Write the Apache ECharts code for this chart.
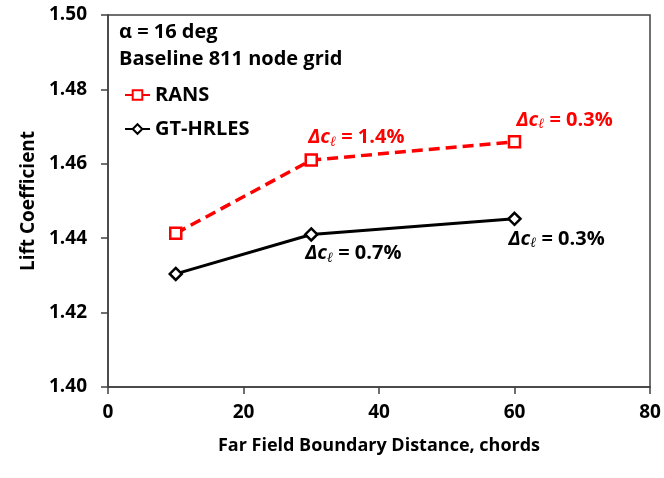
<!DOCTYPE html>
<html><head><meta charset="utf-8">
<script src="https://cdn.jsdelivr.net/npm/echarts@6/dist/echarts.min.js"></script>
<style>html,body{margin:0;padding:0;background:#fff}#c{width:664px;height:478px}</style>
</head><body><div id="c"></div>
<script>
const distances = [10, 30, 60];
const ransValues = [1.4413, 1.4610, 1.4659];
const hrlesValues = [1.4304, 1.4410, 1.4452];
const ransNotes = ['', '1.4%', '0.3%'];
const hrlesNotes = ['', '0.7%', '0.3%'];
const xTicks = [0, 20, 40, 60, 80];
const yTicks = [1.40, 1.42, 1.44, 1.46, 1.48, 1.50];

const FONT = 'Open Sans';
const chart = echarts.init(document.getElementById('c'));
function rich(color){
  return {
    d:{fontFamily:FONT,fontWeight:'bold',fontStyle:'italic',fontSize:20,color:color},
    s:{fontFamily:'DejaVu Serif',fontStyle:'italic',fontWeight:'bold',fontSize:14,color:color,verticalAlign:'bottom',padding:[10,0,0,0]},
    t:{fontFamily:FONT,fontWeight:'bold',fontSize:20,color:color}
  };
}
function noteData(values, notes, offsets, color){
  return values.map((v,i)=>{
    const item = {value:[distances[i], v]};
    if(notes[i]){
      item.label = {show:true, position:'inside', align:'left', verticalAlign:'middle',
        offset:offsets[i], formatter:'{d|Δc}{s|ℓ}{t| = '+notes[i]+'}', rich:rich(color)};
    }
    return item;
  });
}
chart.setOption({
  animation:false,
  grid:{left:108,right:14,top:15,bottom:91,show:true,borderColor:'#404040',borderWidth:1.5,backgroundColor:'transparent'},
  xAxis:{type:'value',min:0,max:80,interval:20,
    name:'Far Field Boundary Distance, chords',nameLocation:'middle',nameGap:50,
    nameTextStyle:{fontFamily:FONT,fontWeight:'bold',fontSize:18,color:'#000'},
    axisLine:{show:true,lineStyle:{color:'#404040',width:1.5}},
    axisTick:{show:true,inside:false,length:7,lineStyle:{color:'#404040',width:1.5}},
    axisLabel:{fontFamily:FONT,fontWeight:'bold',fontSize:19,color:'#000',margin:16,
      formatter:v=>xTicks.includes(v)?String(v):''},
    splitLine:{show:false}},
  yAxis:{type:'value',min:1.40,max:1.50,interval:0.02,
    name:'Lift Coefficient',nameLocation:'middle',nameGap:70,
    nameTextStyle:{fontFamily:FONT,fontWeight:'bold',fontSize:19,color:'#000'},
    axisLine:{show:true,lineStyle:{color:'#404040',width:1.5}},
    axisTick:{show:true,inside:false,length:7,lineStyle:{color:'#404040',width:1.5}},
    axisLabel:{fontFamily:FONT,fontWeight:'bold',fontSize:19,color:'#000',margin:21,
      formatter:v=>{const t=yTicks.find(y=>Math.abs(y-v)<1e-6);return t===undefined?'':t.toFixed(2);}},
    splitLine:{show:false}},
  legend:{orient:'vertical',left:119,top:80,itemGap:14,itemWidth:25,itemHeight:12,
    textStyle:{fontFamily:FONT,fontWeight:'bold',fontSize:20,color:'#000'},
    data:['RANS','GT-HRLES']},
  graphic:[
    {type:'text',left:119,top:22,style:{text:'α = 16 deg',font:'bold 20px "Open Sans"',fill:'#000'}},
    {type:'text',left:119,top:49,style:{text:'Baseline 811 node grid',font:'bold 20px "Open Sans"',fill:'#000'}}
  ],
  series:[
    {name:'RANS',type:'line',data:noteData(ransValues,ransNotes,[null,[-3,-23],[2,-22]],'#ff0000'),
      lineStyle:{color:'#ff0000',width:3.5,type:[11,6]},
      itemStyle:{color:'#fff',borderColor:'#ff0000',borderWidth:2.5},
      symbol:'rect',symbolSize:11,showSymbol:true},
    {name:'GT-HRLES',type:'line',data:noteData(hrlesValues,hrlesNotes,[null,[-6,19],[-6,20]],'#000'),
      lineStyle:{color:'#000',width:3},
      itemStyle:{color:'#fff',borderColor:'#000',borderWidth:2.5},
      symbol:'diamond',symbolSize:[12,12],showSymbol:true}
  ]
});
</script></body></html>
